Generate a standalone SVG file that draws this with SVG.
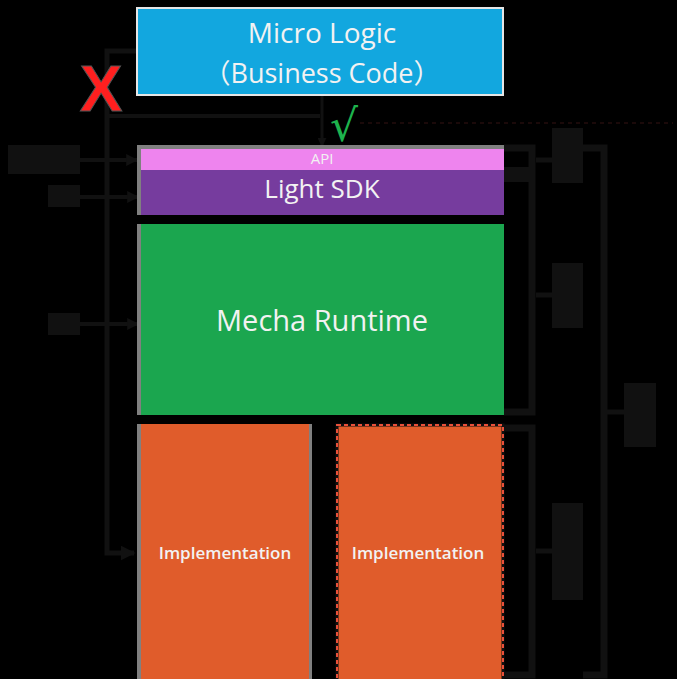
<svg xmlns="http://www.w3.org/2000/svg" width="677" height="679" viewBox="0 0 677 679">
<defs>
<style>
.t{font-family:"Open Sans","Noto Sans","Noto Sans CJK SC",sans-serif;fill:#f2f2f2;text-anchor:middle}
.b{font-weight:600}
.c{stroke:#111;fill:none}
.lbl{fill:#111}
</style>
<marker id="ah" viewBox="0 0 10 10" refX="9" refY="5" markerWidth="3" markerHeight="3" orient="auto" markerUnits="strokeWidth">
<path d="M0,0 L10,5 L0,10 z" fill="#111"/>
</marker>
</defs>
<rect x="0" y="0" width="677" height="679" fill="#000"/>

<g id="connectors">
<path class="c" stroke-width="5" d="M137,51 H107 V553 H134" marker-end="url(#ah)"/>
<path class="c" stroke-width="4" d="M107,116 H320"/>
<line x1="360" y1="123" x2="673" y2="123" stroke="#1a0909" stroke-width="2" stroke-dasharray="4 4"/>
<path class="c" stroke-width="3" d="M322,95 V146" marker-end="url(#ah)"/>
<path class="c" stroke-width="4" d="M80,160 H137" marker-end="url(#ah)"/>
<path class="c" stroke-width="4" d="M80,197 H138" marker-end="url(#ah)"/>
<path class="c" stroke-width="4" d="M80,324 H138" marker-end="url(#ah)"/>
<path class="c" stroke-width="7" d="M504,148 H532 V412 H504"/>
<path class="c" stroke-width="7" d="M504,428 H532 V675 H504"/>
<path class="c" stroke-width="7" d="M583,148 H604 V675 H583"/>
<path class="c" stroke-width="5" d="M536,160 H552 M536,295 H552 M536,551 H552 M607,412 H624"/>
<rect class="lbl" x="504" y="167" width="26" height="15"/>
</g>

<g id="labels">
<rect class="lbl" x="8" y="145" width="72" height="29"/>
<rect class="lbl" x="48" y="185" width="32" height="22"/>
<rect class="lbl" x="48" y="313" width="32" height="22"/>
<rect class="lbl" x="552" y="128" width="31" height="55"/>
<rect class="lbl" x="552" y="263" width="31" height="65"/>
<rect class="lbl" x="624" y="383" width="32" height="64"/>
<rect class="lbl" x="552" y="503" width="31" height="97"/>
</g>

<g id="micro-logic">
<rect x="137" y="8" width="366" height="87" fill="#12a7df" stroke="#e6e6e6" stroke-width="2"/>
<text class="t" x="322" y="43" font-size="28">Micro Logic</text>
<text class="t" x="322" y="83" font-size="27">（Business Code）</text>
</g>

<g id="mark-x">
<text x="101" y="111" font-family="Liberation Sans,Arial,sans-serif" font-size="64" font-weight="bold" fill="#ff1f1f" text-anchor="middle" stroke="#555" stroke-width="1">X</text>
</g>

<g id="mark-check">
<text x="344" y="141" font-family="DejaVu Sans,sans-serif" font-size="44" fill="#1db34d" text-anchor="middle">√</text>
</g>

<g id="api">
<rect x="137" y="145" width="367" height="26" fill="#808080"/>
<rect x="141" y="149" width="363" height="21" fill="#ee84ee"/>
<text class="t" x="322" y="164" font-size="15">API</text>
</g>

<g id="light-sdk">
<rect x="137" y="170" width="4" height="45" fill="#808080"/>
<rect x="141" y="170" width="363" height="45" fill="#763c9e"/>
<text class="t" x="322" y="198" font-size="26">Light SDK</text>
</g>

<g id="mecha-runtime">
<rect x="137" y="224" width="4" height="191" fill="#808080"/>
<rect x="141" y="224" width="363" height="191" fill="#1ba64f"/>
<text class="t" x="322" y="331" font-size="29">Mecha Runtime</text>
</g>

<g id="impl-1">
<rect x="137" y="424" width="175" height="260" fill="#808080"/>
<rect x="141" y="424" width="168" height="260" fill="#e05c2b"/>
<text class="t b" x="225" y="559" font-size="17">Implementation</text>
</g>

<g id="impl-2">
<rect x="337" y="425" width="166" height="258" fill="#e05c2b" stroke="#111" stroke-width="3"/>
<rect x="337" y="425" width="166" height="258" fill="none" stroke="#e8503a" stroke-width="2" stroke-dasharray="4 3"/>
<text class="t b" x="418" y="559" font-size="17">Implementation</text>
</g>
</svg>
